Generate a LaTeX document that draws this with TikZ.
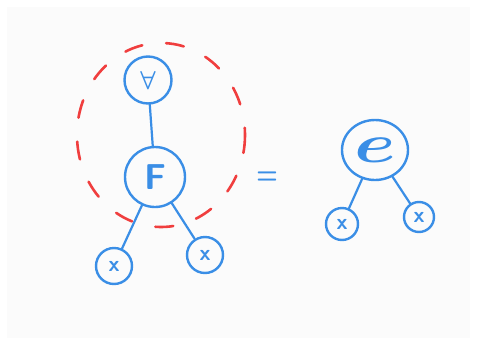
\documentclass[tikz,border=0pt]{standalone}
\usepackage{graphicx}
\usepackage{xcolor}
\usepackage{tikz}
\usetikzlibrary{shapes.geometric}
\definecolor{sketchBlue}{HTML}{3A8EE6}
\definecolor{sketchRed}{HTML}{F03E3E}
\definecolor{paperGray}{HTML}{FBFBFB}
\newcommand{\sketchsym}[3]{\scalebox{#1}[#2]{\boldmath$#3$}}

\begin{document}
\begin{tikzpicture}[x=1pt,y=-1pt,
      vtx/.style={circle,draw=sketchBlue,line width=2.4pt,text=sketchBlue,inner sep=0pt,font=\sffamily\bfseries},
      leaf/.style={vtx,minimum size=36pt,font=\fontsize{22}{22}\selectfont\sffamily\bfseries},
      edge/.style={draw=sketchBlue,line width=2.2pt,line cap=round}]
    \useasboundingbox (0,0) rectangle (477,346);
    \fill[paperGray] (7,7) rectangle (470,338);

    % left tree
    \node[vtx,minimum size=47pt] (all) at (148,80) {\sketchsym{2.4}{2.6}{\forall}};
    \node[vtx,minimum size=60pt,font=\fontsize{36}{36}\selectfont\sffamily\bfseries] (fun) at (155,177) {F};
    \node[leaf] (xa) at (114,266) {x};
    \node[leaf] (xb) at (205,255) {x};
    \draw[edge] (all) -- (fun);
    \draw[edge] (fun) -- (xa);
    \draw[edge] (fun) -- (xb);

    % grouped part
    \draw[sketchRed,line width=2.6pt,line cap=round,dash pattern=on 18pt off 24pt]
      (161,135) ellipse [x radius=84, y radius=92];

    \node[text=sketchBlue] (eq) at (267,178) {\sketchsym{2.4}{3.2}{=}};

    % right tree
    \node[vtx,ellipse,minimum width=66pt,minimum height=60pt] (ev) at (375,150) {\sketchsym{7.5}{5.5}{e}};
    \node[leaf,minimum size=32pt] (xc) at (342,224) {x};
    \node[leaf,minimum size=30pt] (xd) at (419,217) {x};
    \draw[edge] (ev) -- (xc);
    \draw[edge] (ev) -- (xd);
  \end{tikzpicture}
\end{document}
